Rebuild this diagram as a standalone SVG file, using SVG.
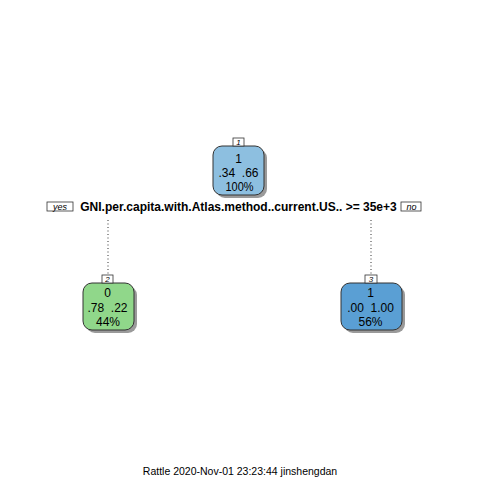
<svg xmlns="http://www.w3.org/2000/svg" width="480" height="480" viewBox="0 0 480 480">
<style>
text{font-family:"Liberation Sans",Arial,sans-serif;fill:#000}
.nt{font-size:12px;text-anchor:middle;white-space:pre}
.num{font-size:8px;font-style:italic;text-anchor:middle}
.lab{font-size:9px;font-style:italic;text-anchor:middle}
.shadow{fill:#9a9a9a}
.box{stroke:#333;stroke-width:1}
.sm{fill:#fff;stroke:#333;stroke-width:0.8}
.conn{stroke:#333;stroke-width:1;stroke-dasharray:1,2.5;fill:none}
</style>
<rect width="480" height="480" fill="#fff"/>
<g id="connectors">
<line class="conn" x1="108" y1="220" x2="108" y2="275"/>
<line class="conn" x1="371" y1="220" x2="371" y2="275"/>
</g>
<g id="node1">
<rect class="shadow" x="216" y="149" width="51" height="49" rx="9"/>
<rect class="box" x="213" y="146" width="51" height="49" rx="9" fill="#8DBFE0"/>
<rect class="sm" x="233" y="138" width="11" height="8"/>
<text class="num" x="238.5" y="145">1</text>
<text class="nt" x="238.5" y="162.5">1</text>
<text class="nt" x="238.5" y="176.5" xml:space="preserve">.34  .66</text>
<text class="nt" x="239.5" y="190.5" textLength="28" lengthAdjust="spacingAndGlyphs">100%</text>
</g>
<g id="split">
<rect class="sm" x="47" y="202" width="26" height="9"/>
<text class="lab" x="60" y="210">yes</text>
<text x="238.5" y="211" font-size="12" font-weight="bold" text-anchor="middle">GNI.per.capita.with.Atlas.method..current.US.. &gt;= 35e+3</text>
<rect class="sm" x="401" y="202" width="20" height="9"/>
<text class="lab" x="411.5" y="210">no</text>
</g>
<g id="node2">
<rect class="shadow" x="86" y="286" width="51" height="47" rx="9"/>
<rect class="box" x="83" y="283" width="51" height="47" rx="9" fill="#90D78A"/>
<rect class="sm" x="102" y="275" width="11" height="8"/>
<text class="num" x="107.5" y="282">2</text>
<text class="nt" x="107.5" y="296.5">0</text>
<text class="nt" x="107.5" y="311.5" xml:space="preserve">.78  .22</text>
<text class="nt" x="108" y="326">44%</text>
</g>
<g id="node3">
<rect class="shadow" x="344" y="286" width="61" height="47" rx="9"/>
<rect class="box" x="341" y="283" width="61" height="47" rx="9" fill="#5A9FD4"/>
<rect class="sm" x="365" y="275" width="12" height="8"/>
<text class="num" x="371" y="282">3</text>
<text class="nt" x="370.5" y="296.5">1</text>
<text class="nt" x="370.5" y="311.5" xml:space="preserve">.00  1.00</text>
<text class="nt" x="370.5" y="326">56%</text>
</g>
<text x="240" y="475" font-size="10.5" text-anchor="middle">Rattle 2020-Nov-01 23:23:44 jinshengdan</text>
</svg>
